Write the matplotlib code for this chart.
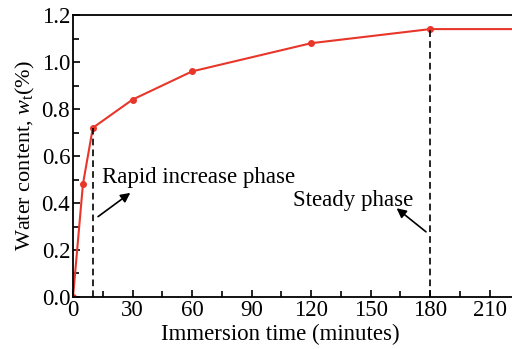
import matplotlib.pyplot as plt
from matplotlib.ticker import MultipleLocator

# Water content vs immersion time
time_min = [0, 5, 10, 30, 60, 120, 180, 240]
water = [0.0, 0.48, 0.72, 0.84, 0.96, 1.08, 1.14, 1.14]

plt.rcParams['font.family'] = 'Liberation Serif'
plt.rcParams['mathtext.fontset'] = 'custom'
plt.rcParams['mathtext.rm'] = 'Liberation Serif'
plt.rcParams['mathtext.it'] = 'Liberation Serif:italic'

fig = plt.figure(figsize=(5.12, 3.49), dpi=100)
ax = fig.add_axes([0.1426, 0.149, 0.93, 0.808])

ax.plot(time_min, water, color='#e8362a', linewidth=1.5, marker='o', markersize=4)

# phase boundaries
ax.plot([10, 10], [0, 0.72], color='black', linestyle='--', linewidth=1.2, dashes=(4, 2.5))
ax.plot([180, 180], [0, 1.14], color='black', linestyle='--', linewidth=1.2, dashes=(4, 2.5))

ax.text(14.8, 0.51, 'Rapid increase phase', fontsize=16.5, va='center', ha='left')
ax.annotate('', xy=(30, 0.45), xytext=(11.5, 0.335),
            arrowprops=dict(arrowstyle='-|>', color='black', lw=1.2, mutation_scale=14))
ax.text(141, 0.41, 'Steady phase', fontsize=16.5, va='center', ha='center')
ax.annotate('', xy=(162, 0.385), xytext=(179, 0.27),
            arrowprops=dict(arrowstyle='-|>', color='black', lw=1.2, mutation_scale=14))

ax.set_xlim(0, 240)
ax.set_ylim(0, 1.2)
ax.xaxis.set_major_locator(MultipleLocator(30))
ax.xaxis.set_minor_locator(MultipleLocator(15))
ax.yaxis.set_major_locator(MultipleLocator(0.2))
ax.yaxis.set_minor_locator(MultipleLocator(0.1))
ax.yaxis.set_major_formatter(plt.FormatStrFormatter('%.1f'))
ax.tick_params(which='both', direction='in', top=False, right=False, labelsize=16.5, width=1.2)
ax.tick_params(which='major', length=5, pad=2)
ax.tick_params(which='minor', length=4)
for s in ax.spines.values():
    s.set_linewidth(1.3)

ax.set_xlabel('Immersion time (minutes)', fontsize=16.5)
ax.xaxis.set_label_coords(0.435, -0.094)
ax.set_ylabel(r'Water content, $w_{\rm t}$(%)', fontsize=16, labelpad=3)

fig.savefig('out.png', dpi=100)
